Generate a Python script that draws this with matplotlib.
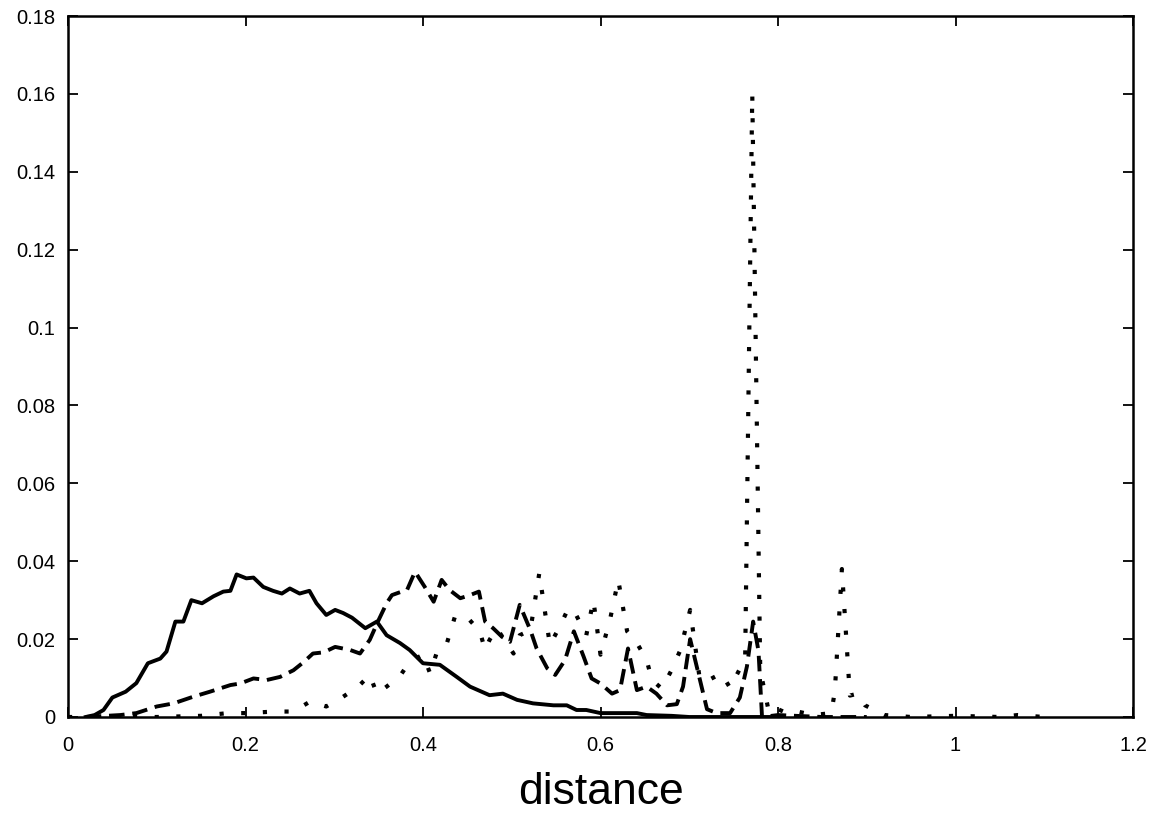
import matplotlib
matplotlib.use("Agg")
import matplotlib.pyplot as plt

# solid curve
solid_x = [0.02, 0.03, 0.04, 0.05, 0.065, 0.077, 0.09, 0.104, 0.111, 0.121, 0.130, 0.139,
           0.151, 0.164, 0.175, 0.183, 0.190, 0.201, 0.209, 0.220, 0.231, 0.241, 0.250,
           0.261, 0.272, 0.280, 0.291, 0.301, 0.310, 0.320, 0.335, 0.348, 0.359, 0.374,
           0.385, 0.400, 0.419, 0.438, 0.453, 0.475, 0.490, 0.506, 0.524, 0.547, 0.562,
           0.573, 0.584, 0.600, 0.641, 0.652, 0.680, 0.700, 0.750, 0.800]
solid_y = [0.0, 0.0005, 0.0018, 0.005, 0.0065, 0.0087, 0.0138, 0.015, 0.0168, 0.0245, 0.0245, 0.030,
           0.0292, 0.031, 0.0322, 0.0324, 0.0366, 0.0356, 0.0358, 0.0334, 0.0324, 0.0317, 0.033,
           0.0317, 0.0324, 0.0292, 0.0262, 0.0275, 0.0267, 0.0255, 0.0228, 0.0245, 0.021, 0.019,
           0.0172, 0.0138, 0.0134, 0.0103, 0.0078, 0.0056, 0.006, 0.0044, 0.0035, 0.003, 0.003,
           0.0018, 0.0018, 0.001, 0.001, 0.0005, 0.0003, 0.0, 0.0, 0.0]

# dashed curve
dash_x = [0.02, 0.059, 0.077, 0.100, 0.119, 0.141, 0.160, 0.183, 0.194, 0.209, 0.224, 0.239,
          0.254, 0.265, 0.276, 0.288, 0.301, 0.318, 0.329, 0.340, 0.350, 0.359, 0.365, 0.376,
          0.382, 0.391, 0.402, 0.412, 0.421, 0.430, 0.442, 0.453, 0.463, 0.470, 0.479, 0.489,
          0.498, 0.509, 0.521, 0.528, 0.540, 0.549, 0.560, 0.570, 0.581, 0.590, 0.600, 0.613,
          0.622, 0.631, 0.641, 0.652, 0.663, 0.675, 0.686, 0.693, 0.701, 0.720, 0.731, 0.746,
          0.757, 0.765, 0.772, 0.778, 0.782, 0.800, 0.820, 0.850, 0.880, 0.900]
dash_y = [0.0, 0.0005, 0.001, 0.0027, 0.0035, 0.0052, 0.0065, 0.0082, 0.0086, 0.0099, 0.0095, 0.0103,
          0.012, 0.0140, 0.0163, 0.0166, 0.018, 0.0172, 0.0163, 0.0198, 0.0249, 0.0292, 0.0313, 0.0322,
          0.0326, 0.0373, 0.0334, 0.0296, 0.0352, 0.0326, 0.0305, 0.0313, 0.0322, 0.0245, 0.0228, 0.0206,
          0.0193, 0.0288, 0.0223, 0.0176, 0.0125, 0.0108, 0.0146, 0.0220, 0.0155, 0.0099, 0.0086, 0.006,
          0.0069, 0.0176, 0.0069, 0.0078, 0.006, 0.003, 0.0033, 0.0078, 0.020, 0.002, 0.001, 0.001,
          0.005, 0.013, 0.0245, 0.017, 0.0, 0.0005, 0.0003, 0.0, 0.0, 0.0]

# dotted curve
dot_x = [0.0, 0.05, 0.10, 0.15, 0.18, 0.20, 0.233, 0.254, 0.273, 0.291, 0.310, 0.327,
         0.340, 0.348, 0.359, 0.374, 0.385, 0.400, 0.408, 0.417, 0.427, 0.436, 0.449, 0.464,
         0.470, 0.475, 0.483, 0.502, 0.509, 0.521, 0.531, 0.543, 0.554, 0.564, 0.573, 0.584,
         0.592, 0.600, 0.611, 0.620, 0.630, 0.641, 0.652, 0.658, 0.669, 0.680, 0.690, 0.701,
         0.712, 0.722, 0.736, 0.746, 0.763, 0.771, 0.780, 0.790, 0.800, 0.810, 0.820, 0.840,
         0.860, 0.864, 0.872, 0.881, 0.890, 0.898, 0.920, 0.950, 1.000, 1.050, 1.070, 1.100]
dot_y = [0.0, 0.0, 0.0, 0.0003, 0.001, 0.001, 0.0014, 0.0014, 0.004, 0.0027, 0.0052, 0.0078,
         0.0108, 0.006, 0.0078, 0.0105, 0.0142, 0.016, 0.0112, 0.0176, 0.019, 0.0258, 0.0258, 0.022,
         0.0172, 0.0198, 0.0228, 0.0163, 0.021, 0.0223, 0.0369, 0.0185, 0.0232, 0.028, 0.026, 0.021,
         0.030, 0.016, 0.0253, 0.0352, 0.022, 0.019, 0.0146, 0.0095, 0.0073, 0.012, 0.0172, 0.0275,
         0.0095, 0.0095, 0.0112, 0.0075, 0.015, 0.160, 0.012, 0.001, 0.002, 0.001, 0.0015, 0.0005,
         0.001, 0.0065, 0.038, 0.0055, 0.006, 0.003, 0.0005, 0.0, 0.0003, 0.0, 0.0005, 0.0]

x_ticks = [0, 0.2, 0.4, 0.6, 0.8, 1, 1.2]
x_labels = ["0", "0.2", "0.4", "0.6", "0.8", "1", "1.2"]
y_ticks = [0, 0.02, 0.04, 0.06, 0.08, 0.1, 0.12, 0.14, 0.16, 0.18]
y_labels = ["0", "0.02", "0.04", "0.06", "0.08", "0.1", "0.12", "0.14", "0.16", "0.18"]

plt.rcParams['font.family'] = ['Liberation Sans', 'DejaVu Sans']

fig = plt.figure(figsize=(11.61, 8.16), dpi=100)
ax = fig.add_axes([68 / 1161, 1 - 717 / 816, (1133 - 68) / 1161, (717 - 16) / 816])

ax.plot(solid_x, solid_y, color='black', lw=2.8, solid_joinstyle='round')
ax.plot(dash_x, dash_y, color='black', lw=2.8, linestyle=(0, (4, 2)))
ax.plot(dot_x, dot_y, color='black', lw=3.0, linestyle=(0, (1, 4.2)))

ax.set_xlim(0, 1.2)
ax.set_ylim(0, 0.18)
ax.set_xticks(x_ticks)
ax.set_xticklabels(x_labels)
ax.set_yticks(y_ticks)
ax.set_yticklabels(y_labels)
ax.tick_params(direction='in', length=7, width=1.3, top=True, right=True, labelsize=14.5)
ax.tick_params(axis='x', pad=14)
ax.tick_params(axis='y', pad=9)
for s in ax.spines.values():
    s.set_linewidth(1.8)

ax.set_xlabel('distance', fontsize=32, labelpad=12)

fig.savefig('out.png', dpi=100)
